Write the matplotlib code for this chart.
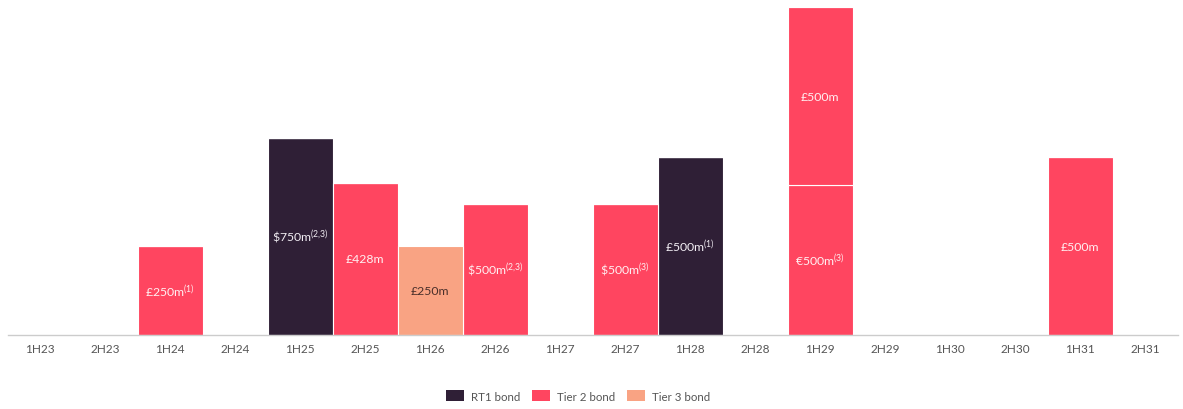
import matplotlib
matplotlib.use("Agg")
import matplotlib.pyplot as plt
from matplotlib.patches import Patch

plt.rcParams['font.family'] = ['Lato', 'DejaVu Sans']
plt.rcParams['mathtext.fontset'] = 'custom'
plt.rcParams['mathtext.rm'] = 'Lato'
plt.rcParams['mathtext.default'] = 'regular'

periods = ["1H23", "2H23", "1H24", "2H24", "1H25", "2H25", "1H26", "2H26", "1H27",
           "2H27", "1H28", "2H28", "1H29", "2H29", "1H30", "2H30", "1H31", "2H31"]

# Sterling-equivalent sizes (£m) of each maturity, by instrument
rt1 = [0, 0, 0, 0, 553, 0, 0, 0, 0, 0, 500, 0, 0, 0, 0, 0, 0, 0]
tier2 = [0, 0, 250, 0, 0, 428, 0, 368, 0, 368, 0, 0, 421, 0, 0, 0, 500, 0]
tier2_second = [0, 0, 0, 0, 0, 0, 0, 0, 0, 0, 0, 0, 500, 0, 0, 0, 0, 0]
tier3 = [0, 0, 0, 0, 0, 0, 250, 0, 0, 0, 0, 0, 0, 0, 0, 0, 0, 0]

# Nominal amounts shown on the bars
rt1_labels = {4: r"\$750m$^{(2{,}3)}$", 10: r"£500m$^{(1)}$"}
tier2_labels = {2: r"£250m$^{(1)}$", 5: "£428m", 7: r"\$500m$^{(2{,}3)}$",
                9: r"\$500m$^{(3)}$", 12: r"€500m$^{(3)}$", 16: "£500m"}
tier2_second_labels = {12: "£500m"}
tier3_labels = {6: "£250m"}

legend_names = ["RT1 bond", "Tier 2 bond", "Tier 3 bond"]

c_rt1 = "#2f1f36"
c_t2 = "#ff4560"
c_t3 = "#f9a383"

fig = plt.figure(figsize=(11.83, 4.10), dpi=100)
ax = fig.add_axes([7.5 / 1183, 74 / 410, 1170 / 1183, 336 / 410])

x = list(range(len(periods)))
bar_kw = dict(width=1.0, edgecolor="white", linewidth=0.8)

b_rt1 = ax.bar(x, rt1, color=c_rt1, **bar_kw)
b_t2 = ax.bar(x, tier2, bottom=rt1, color=c_t2, **bar_kw)
base2 = [a + b for a, b in zip(rt1, tier2)]
b_t2b = ax.bar(x, tier2_second, bottom=base2, color=c_t2, **bar_kw)
base3 = [a + b for a, b in zip(base2, tier2_second)]
b_t3 = ax.bar(x, tier3, bottom=base3, color=c_t3, **bar_kw)


def put_labels(bars, labels, colour):
    for i, text in labels.items():
        r = bars[i]
        ax.text(r.get_x() + r.get_width() / 2, r.get_y() + r.get_height() / 2,
                text, ha="center", va="center", color=colour, fontsize=8.8)


put_labels(b_rt1, rt1_labels, "#f2eef4")
put_labels(b_t2, tier2_labels, "#fff0f2")
put_labels(b_t2b, tier2_second_labels, "#fff0f2")
put_labels(b_t3, tier3_labels, "#4a2f2a")

ax.set_xlim(-0.5, len(periods) - 0.5)
ax.set_ylim(0, 944)
ax.set_xticks(x)
ax.set_xticklabels(periods, fontsize=8.5, color="#555555")
ax.tick_params(axis="x", length=0, pad=6)
ax.set_yticks([])
for side in ("top", "right", "left"):
    ax.spines[side].set_visible(False)
ax.spines["bottom"].set_color("#cccccc")
ax.spines["bottom"].set_linewidth(1.0)

handles = [Patch(facecolor=c, edgecolor="none") for c in (c_rt1, c_t2, c_t3)]
fig.legend(handles, legend_names, loc="center", bbox_to_anchor=(578 / 1183, 1 - 397 / 410),
           ncol=3, frameon=False, fontsize=8.3, labelcolor="#555555",
           handlelength=1.6, handleheight=1.1, columnspacing=1.0, handletextpad=0.6)

fig.savefig("out.png", dpi=100)
